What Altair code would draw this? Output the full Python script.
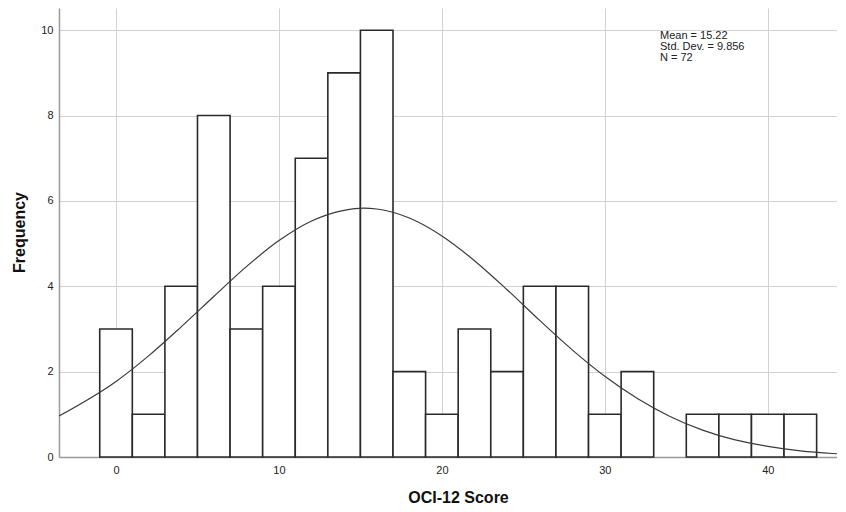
import altair as alt
import pandas as pd

# Histogram bins (bin width 2, centred on even scores) and frequencies
bin_centers = [0, 2, 4, 6, 8, 10, 12, 14, 16, 18, 20, 22, 24, 26, 28, 30, 32, 34, 36, 38, 40, 42]
counts = [3, 1, 4, 8, 3, 4, 7, 9, 10, 2, 1, 3, 2, 4, 4, 1, 2, 0, 1, 1, 1, 1]

# Fitted normal curve
curve_x = [-3.5, 0, 2, 4, 6, 8, 10, 12, 14, 15.2, 16, 18, 20, 22, 24, 26, 28, 30, 32, 34, 36, 38, 40, 42, 44, 45]
curve_y = [0.96, 1.77, 2.37, 3.05, 3.76, 4.46, 5.07, 5.53, 5.78, 5.83, 5.81, 5.60, 5.18, 4.60, 3.92, 3.20,
           2.51, 1.89, 1.37, 0.95, 0.63, 0.40, 0.25, 0.145, 0.082, 0.06]

stats_lines = ["Mean = 15.22", "Std. Dev. = 9.856", "N = 72"]

x_ticks = [0, 10, 20, 30, 40]
y_ticks = [0, 2, 4, 6, 8, 10]

bars_df = pd.DataFrame({
    "start": [c - 1 for c in bin_centers],
    "end": [c + 1 for c in bin_centers],
    "count": counts,
})
curve_df = pd.DataFrame({"x": curve_x, "y": curve_y})
stats_df = pd.DataFrame({"label": ["\n".join(stats_lines)]})

FONT = "Liberation Sans"

x_scale = alt.Scale(domain=[-3.5, 44.25], nice=False, zero=False)
y_scale = alt.Scale(domain=[0, 10.52], nice=False)

x_axis = alt.Axis(
    values=x_ticks, title="OCI-12 Score", grid=True, ticks=False, labelPadding=7,
    titleX=399, titleY=45, titleBaseline="alphabetic", titleAnchor="start", titleAlign="center",
)
y_axis = alt.Axis(
    values=y_ticks, title="Frequency", grid=True, ticks=False, labelPadding=6,
    titleX=-40, titleY=224, titleBaseline="middle", titleAngle=-90, titleAlign="center",
)

bars = alt.Chart(bars_df).transform_filter(alt.datum.count > 0).mark_rect(
    fill="white", stroke="#2a2a2a", strokeWidth=1.6
).encode(
    x=alt.X("start:Q", scale=x_scale, axis=x_axis),
    x2="end:Q",
    y=alt.Y("count:Q", scale=y_scale, axis=y_axis),
    y2=alt.datum(0),
)

curve = alt.Chart(curve_df).mark_line(
    color="#3a3a3a", strokeWidth=1.2, interpolate="monotone", clip=True
).encode(
    x=alt.X("x:Q", scale=x_scale),
    y=alt.Y("y:Q", scale=y_scale),
)

stats = alt.Chart(stats_df).mark_text(
    align="left", baseline="top", font=FONT, fontSize=11, lineHeight=11,
    lineBreak="\n", color="#222222"
).encode(
    x=alt.value(601),
    y=alt.value(22),
    text="label:N",
)

chart = alt.layer(bars, curve, stats).properties(
    width=778,
    height=449,
    autosize=alt.AutoSizeParams(type="none"),
    padding={"left": 51, "top": 0, "right": 0, "bottom": 47},
).configure_view(
    stroke=None
).configure_axis(
    domainColor="#9a9a9a",
    domainWidth=1.5,
    gridColor="#d2d2d2",
    gridWidth=1,
    labelFont=FONT,
    labelFontSize=11,
    labelColor="#222222",
    titleFont=FONT,
    titleFontSize=16,
    titleFontWeight="bold",
    titleColor="#111111",
)

chart.save("out.html", embed_options={"renderer": "svg", "actions": False})
